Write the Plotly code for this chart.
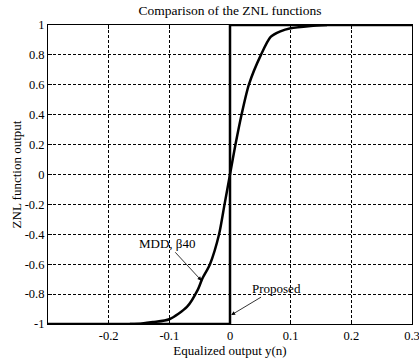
import plotly.graph_objects as go

# MDD (beta 40) curve
mdd_x = [-0.165, -0.145, -0.127, -0.10, -0.071, -0.053, -0.046, -0.033, -0.018, -0.009, 0.0,
         0.009, 0.019, 0.031, 0.051, 0.067, 0.083, 0.10, 0.133, 0.16]
mdd_y = [-1.0, -0.996, -0.987, -0.968, -0.886, -0.77, -0.70, -0.60, -0.40, -0.20, 0.0,
         0.20, 0.40, 0.60, 0.80, 0.92, 0.957, 0.978, 0.993, 1.0]

# Proposed ZNL (sign function)
prop_x = [-0.3, 0.0, 0.0, 0.3]
prop_y = [-1.0, -1.0, 1.0, 1.0]

x_ticks = [-0.2, -0.1, 0, 0.1, 0.2, 0.3]
x_ticktext = ["-0.2", "-0.1", "0", "0.1", "0.2", "0.3"]
y_ticks = [-1, -0.8, -0.6, -0.4, -0.2, 0, 0.2, 0.4, 0.6, 0.8, 1]
y_ticktext = ["-1", "-0.8", "-0.6", "-0.4", "-0.2", "0", "0.2", "0.4", "0.6", "0.8", "1"]

font = "Liberation Serif, Times New Roman, serif"

fig = go.Figure()
fig.add_trace(go.Scatter(x=prop_x, y=prop_y, mode="lines",
                         line=dict(color="black", width=2.5), showlegend=False,
                         cliponaxis=False))
fig.add_trace(go.Scatter(x=mdd_x, y=mdd_y, mode="lines", line_shape="spline",
                         line=dict(color="black", width=2.5, smoothing=0.7),
                         showlegend=False, cliponaxis=False))

fig.add_annotation(x=-0.047, y=-0.71, ax=-0.104, ay=-0.46, axref="x", ayref="y",
                   text="MDD, β40", showarrow=True, arrowhead=2, arrowsize=1,
                   arrowwidth=0.8, arrowcolor="black", standoff=0,
                   font=dict(family=font, size=13, color="black"))
fig.add_annotation(x=0.002, y=-0.94, ax=0.076, ay=-0.76, axref="x", ayref="y",
                   text="Proposed", showarrow=True, arrowhead=2, arrowsize=1,
                   arrowwidth=0.8, arrowcolor="black", standoff=0,
                   font=dict(family=font, size=13, color="black"))

axis_common = dict(showline=True, linecolor="black", linewidth=1, mirror="allticks",
                   ticks="inside", ticklen=4, tickcolor="black",
                   showgrid=True, gridcolor="black", gridwidth=1, griddash="3px,2px",
                   zeroline=False, automargin=False, ticklabeloverflow="allow",
                   tickfont=dict(family=font, size=12.5, color="black"))

fig.update_xaxes(range=[-0.3, 0.3], tickvals=x_ticks, ticktext=x_ticktext,
                 title=dict(text="Equalized output y(n)", standoff=0,
                            font=dict(family=font, size=13, color="black")),
                 **axis_common)
fig.update_yaxes(range=[-1, 1], tickvals=y_ticks, ticktext=y_ticktext,
                 title=dict(text="ZNL function output", standoff=0,
                            font=dict(family=font, size=13, color="black")),
                 **axis_common)

fig.update_layout(
    width=419, height=359,
    margin=dict(l=48, r=7, t=25, b=35, autoexpand=False),
    paper_bgcolor="white", plot_bgcolor="white",
    title=dict(text="Comparison of the ZNL functions", x=0.549, xanchor="center",
               y=0.972, yanchor="middle",
               font=dict(family=font, size=13.5, color="black")),
)

fig.write_html("out.html", config={"displayModeBar": False},
               post_script="document.body.style.margin='0';")
